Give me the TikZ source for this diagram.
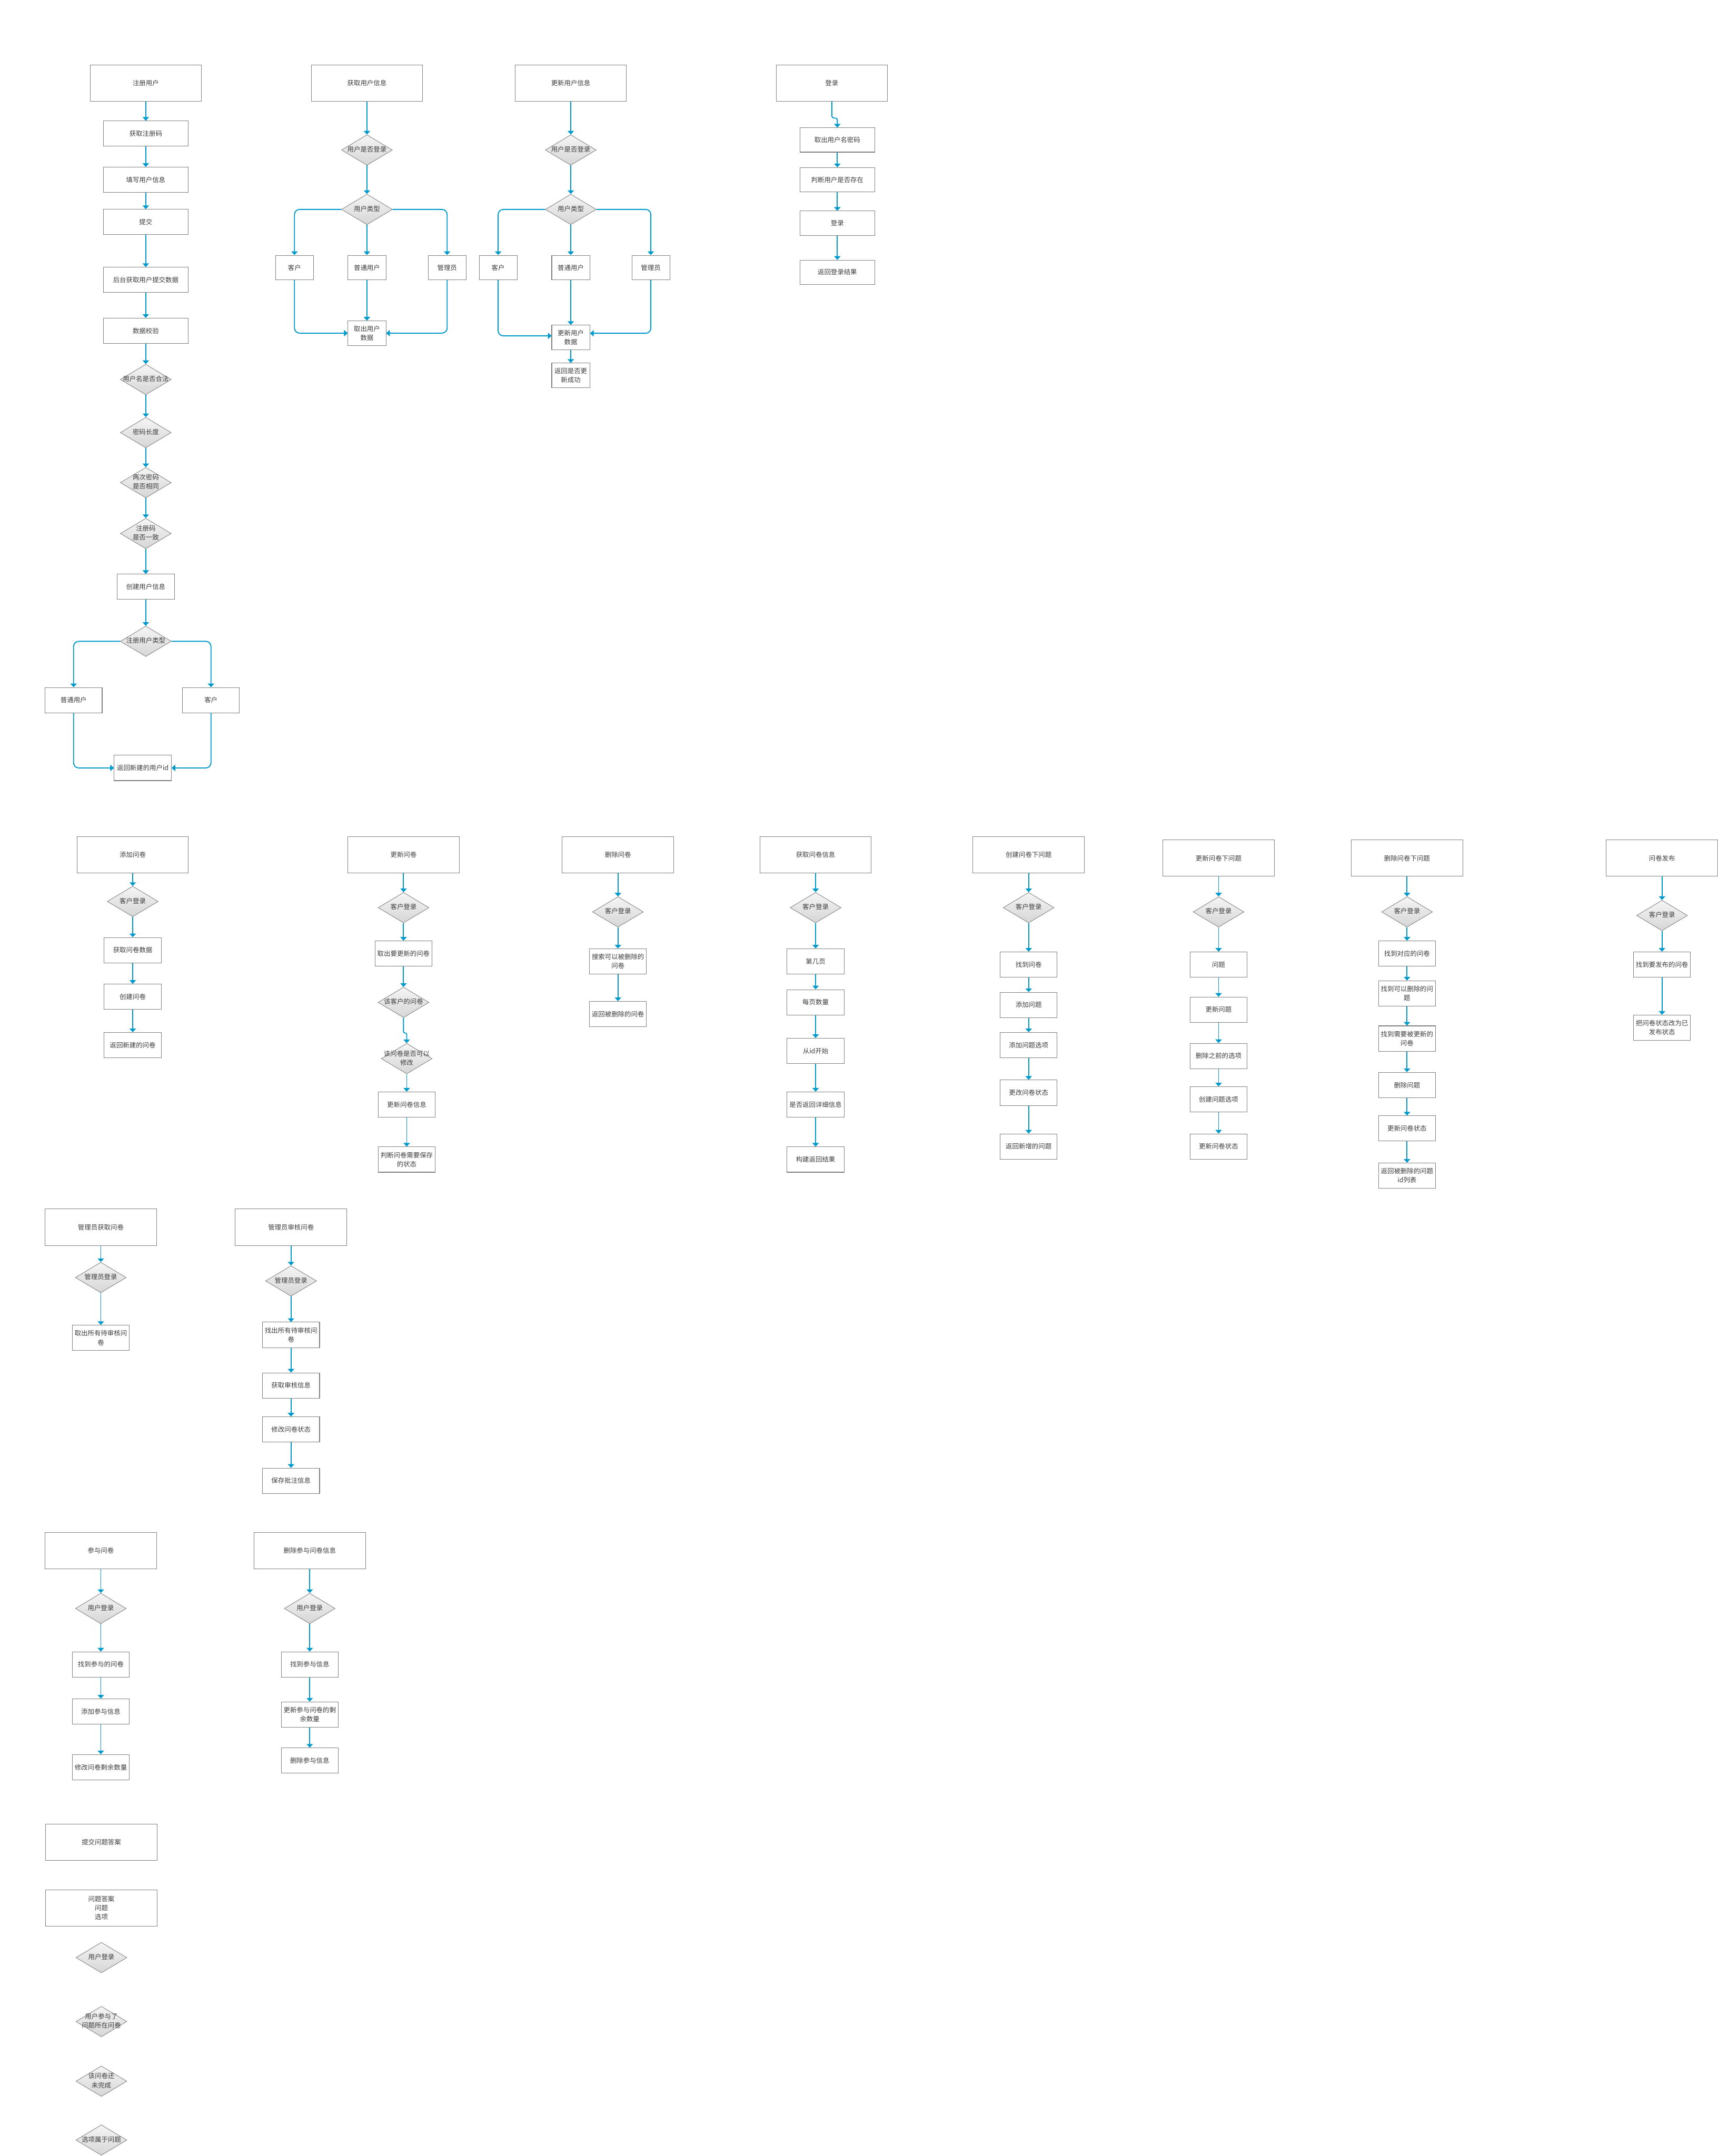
\documentclass[tikz,border=0pt]{standalone}
\usepackage{fontspec}
\setmainfont{Noto Sans CJK SC}
\usepackage{tikz}
\usetikzlibrary{shapes.geometric}
\usetikzlibrary{arrows.meta,positioning}

\definecolor{xianlan}{HTML}{0099CC}
\definecolor{biankuang}{HTML}{7F7F7F}
\definecolor{wenzi}{HTML}{3C3C3C}
\definecolor{lingshang}{HTML}{F5F5F5}
\definecolor{lingxia}{HTML}{D6D6D6}

% 菱形里的文字（不撑大菱形）
\newcommand{\zhe}[1]{\makebox[0pt]{\begin{tabular}{@{}c@{}}#1\end{tabular}}}

\begin{document}
\begin{tikzpicture}[x=0.0532cm, y=-0.0532cm,
  every node/.style={font=\fontsize{7.2}{10}\selectfont, text=wenzi},
  kuang/.style={rectangle, draw=biankuang, line width=0.6pt, fill=white, align=center, inner sep=1pt},
  dakuang/.style={kuang, minimum width=4.31cm, minimum height=1.41cm},
  zhongkuang/.style={kuang, minimum width=3.27cm, minimum height=0.98cm},
  xiaokuang/.style={kuang, minimum width=2.21cm, minimum height=0.98cm},
  zhaikuang/.style={kuang, minimum width=1.47cm, minimum height=0.95cm},
  dlkuang/.style={kuang, minimum width=2.88cm, minimum height=0.94cm},
  lingxing/.style={diamond, draw=biankuang, line width=0.5pt, top color=lingshang, bottom color=lingxia,
    minimum width=1.97cm, minimum height=1.18cm, inner sep=0pt},
  liu/.style={draw=xianlan, line width=1.1pt, -{Triangle[width=7pt,length=4pt]}, rounded corners=0.2cm}]
  \useasboundingbox (0,0) rectangle (1249,1568);

  % 注册用户
  \node[dakuang] (zc0) at (106,60.4) {注册用户};
  \node[zhongkuang] (zc1) at (106,97.2) {获取注册码};
  \node[zhongkuang] (zc2) at (106,130.8) {填写用户信息};
  \node[zhongkuang] (zc3) at (106,161.5) {提交};
  \node[zhongkuang] (zc4) at (106,203.6) {后台获取用户提交数据};
  \node[zhongkuang] (zc5) at (106,240.6) {数据校验};
  \node[lingxing] (zc6) at (106,276) {\zhe{用户名是否合法}};
  \node[lingxing] (zc7) at (106,314.6) {\zhe{密码长度}};
  \node[lingxing] (zc8) at (106,351) {\zhe{两次密码\\是否相同}};
  \node[lingxing] (zc9) at (106,388) {\zhe{注册码\\是否一致}};
  \node[xiaokuang] (zc10) at (106,426.8) {创建用户信息};
  \node[lingxing] (zc11) at (106,466.4) {\zhe{注册用户类型}};
  \node[xiaokuang] (zc12) at (53.5,509.2) {普通用户};
  \node[xiaokuang] (zc13) at (153.4,509.2) {客户};
  \node[xiaokuang] (zc14) at (103.8,558.5) {返回新建的用户id};
  \draw[liu] (zc0) -- (zc1);
  \draw[liu] (zc1) -- (zc2);
  \draw[liu] (zc2) -- (zc3);
  \draw[liu] (zc3) -- (zc4);
  \draw[liu] (zc4) -- (zc5);
  \draw[liu] (zc5) -- (zc6);
  \draw[liu] (zc6) -- (zc7);
  \draw[liu] (zc7) -- (zc8);
  \draw[liu] (zc8) -- (zc9);
  \draw[liu] (zc9) -- (zc10);
  \draw[liu] (zc10) -- (zc11);
  \draw[liu] (zc11.west) -| (zc12.north);
  \draw[liu] (zc11.east) -| (zc13.north);
  \draw[liu] (zc12.south) |- (zc14.west);
  \draw[liu] (zc13.south) |- (zc14.east);

  % 获取用户信息
  \node[dakuang] (hq0) at (266.8,60.4) {获取用户信息};
  \node[lingxing] (hq1) at (266.8,109.1) {\zhe{用户是否登录}};
  \node[lingxing] (hq2) at (266.8,152.3) {\zhe{用户类型}};
  \node[zhaikuang] (hq3) at (214.1,194.6) {客户};
  \node[zhaikuang] (hq4) at (266.8,194.6) {普通用户};
  \node[zhaikuang] (hq5) at (325.1,194.6) {管理员};
  \node[zhaikuang] (hq6) at (266.8,242.3) {取出用户\\数据};
  \draw[liu] (hq0) -- (hq1);
  \draw[liu] (hq1) -- (hq2);
  \draw[liu] (hq2.west) -| (hq3.north);
  \draw[liu] (hq2) -- (hq4);
  \draw[liu] (hq2.east) -| (hq5.north);
  \draw[liu] (hq3.south) |- (hq6.west);
  \draw[liu] (hq4) -- (hq6);
  \draw[liu] (hq5.south) |- (hq6.east);

  % 更新用户信息
  \node[dakuang] (gx0) at (415,60.4) {更新用户信息};
  \node[lingxing] (gx1) at (415,109.1) {\zhe{用户是否登录}};
  \node[lingxing] (gx2) at (415,152.3) {\zhe{用户类型}};
  \node[zhaikuang] (gx3) at (362.2,194.6) {客户};
  \node[zhaikuang] (gx4) at (415,194.6) {普通用户};
  \node[zhaikuang] (gx5) at (473.2,194.6) {管理员};
  \node[zhaikuang] (gx6) at (415,245.4) {更新用户\\数据};
  \node[zhaikuang] (gx7) at (415,273) {返回是否更\\新成功};
  \draw[liu] (gx0) -- (gx1);
  \draw[liu] (gx1) -- (gx2);
  \draw[liu] (gx2.west) -| (gx3.north);
  \draw[liu] (gx2) -- (gx4);
  \draw[liu] (gx2.east) -| (gx5.north);
  \draw[liu] (gx3.south) |- ([yshift=0.06cm]gx6.west);
  \draw[liu] (gx4) -- (gx6);
  \draw[liu] (gx5.south) |- ([yshift=0.16cm]gx6.east);
  \draw[liu] (gx6) -- (gx7);

  % 登录
  \node[dakuang] (dl0) at (604.8,60.4) {登录};
  \node[dlkuang] (dl1) at (608.8,101.8) {取出用户名密码};
  \node[dlkuang] (dl2) at (608.8,130.7) {判断用户是否存在};
  \node[dlkuang] (dl3) at (608.8,162.3) {登录};
  \node[dlkuang] (dl4) at (608.8,198) {返回登录结果};
  \draw[liu, rounded corners=0.08cm] (dl0.south) -- ++(0,12) -| (dl1.north);
  \draw[liu] (dl1) -- (dl2);
  \draw[liu] (dl2) -- (dl3);
  \draw[liu] (dl3) -- (dl4);

  % 添加问卷
  \node[dakuang] (tj0) at (96.5,621.7) {添加问卷};
  \node[lingxing] (tj1) at (96.5,655.6) {\zhe{客户登录}};
  \node[xiaokuang] (tj2) at (96.5,691) {获取问卷数据};
  \node[xiaokuang] (tj3) at (96.5,724.9) {创建问卷};
  \node[xiaokuang] (tj4) at (96.5,760.1) {返回新建的问卷};
  \draw[liu] (tj0) -- (tj1);
  \draw[liu] (tj1) -- (tj2);
  \draw[liu] (tj2) -- (tj3);
  \draw[liu] (tj3) -- (tj4);

  % 更新问卷
  \node[dakuang] (gw0) at (293.4,621.7) {更新问卷};
  \node[lingxing] (gw1) at (293.4,660.1) {\zhe{客户登录}};
  \node[xiaokuang] (gw2) at (293.4,693.5) {取出要更新的问卷};
  \node[lingxing] (gw3) at (293.4,729) {\zhe{该客户的问卷}};
  \node[lingxing] (gw4) at (295.7,769.9) {\zhe{该问卷是否可以\\修改}};
  \node[xiaokuang] (gw5) at (295.7,803.3) {更新问卷信息};
  \node[xiaokuang] (gw6) at (295.7,843.3) {判断问卷需要保存\\的状态};
  \draw[liu] (gw0) -- (gw1);
  \draw[liu] (gw1) -- (gw2);
  \draw[liu] (gw2) -- (gw3);
  \draw[liu, rounded corners=0.04cm] (gw3.south) -- ++(0,11) -| (gw4.north);
  \draw[liu] (gw4) -- (gw5);
  \draw[liu] (gw5) -- (gw6);

  % 删除问卷
  \node[dakuang] (sw0) at (449.3,621.7) {删除问卷};
  \node[lingxing] (sw1) at (449.3,663.2) {\zhe{客户登录}};
  \node[xiaokuang] (sw2) at (449.3,699.2) {搜索可以被删除的\\问卷};
  \node[xiaokuang] (sw3) at (449.3,737.5) {返回被删除的问卷};
  \draw[liu] (sw0) -- (sw1);
  \draw[liu] (sw1) -- (sw2);
  \draw[liu] (sw2) -- (sw3);

  % 获取问卷信息
  \node[dakuang] (hw0) at (593,621.7) {获取问卷信息};
  \node[lingxing] (hw1) at (593,660.1) {\zhe{客户登录}};
  \node[xiaokuang] (hw2) at (593,699.2) {第几页};
  \node[xiaokuang] (hw3) at (593,728.9) {每页数量};
  \node[xiaokuang] (hw4) at (593,764.3) {从id开始};
  \node[xiaokuang] (hw5) at (593,803.3) {是否返回详细信息};
  \node[xiaokuang] (hw6) at (593,843.3) {构建返回结果};
  \draw[liu] (hw0) -- (hw1);
  \draw[liu] (hw1) -- (hw2);
  \draw[liu] (hw2) -- (hw3);
  \draw[liu] (hw3) -- (hw4);
  \draw[liu] (hw4) -- (hw5);
  \draw[liu] (hw5) -- (hw6);

  % 创建问卷下问题
  \node[dakuang] (cw0) at (747.9,621.7) {创建问卷下问题};
  \node[lingxing] (cw1) at (747.9,660.1) {\zhe{客户登录}};
  \node[xiaokuang] (cw2) at (747.9,701.5) {找到问卷};
  \node[xiaokuang] (cw3) at (747.9,730.9) {添加问题};
  \node[xiaokuang] (cw4) at (747.9,760.1) {添加问题选项};
  \node[xiaokuang] (cw5) at (747.9,794.7) {更改问卷状态};
  \node[xiaokuang] (cw6) at (747.9,833.8) {返回新增的问题};
  \draw[liu] (cw0) -- (cw1);
  \draw[liu] (cw1) -- (cw2);
  \draw[liu] (cw2) -- (cw3);
  \draw[liu] (cw3) -- (cw4);
  \draw[liu] (cw4) -- (cw5);
  \draw[liu] (cw5) -- (cw6);

  % 更新问卷下问题
  \node[dakuang] (gt0) at (886,624.1) {更新问卷下问题};
  \node[lingxing] (gt1) at (886,663.2) {\zhe{客户登录}};
  \node[xiaokuang] (gt2) at (886,701.5) {问题};
  \node[xiaokuang] (gt3) at (886,734.3) {更新问题};
  \node[xiaokuang] (gt4) at (886,768) {删除之前的选项};
  \node[xiaokuang] (gt5) at (886,799.5) {创建问题选项};
  \node[xiaokuang] (gt6) at (886,833.8) {更新问卷状态};
  \draw[liu] (gt0) -- (gt1);
  \draw[liu] (gt1) -- (gt2);
  \draw[liu] (gt2) -- (gt3);
  \draw[liu] (gt3) -- (gt4);
  \draw[liu] (gt4) -- (gt5);
  \draw[liu] (gt5) -- (gt6);

  % 删除问卷下问题
  \node[dakuang] (st0) at (1023,624.1) {删除问卷下问题};
  \node[lingxing] (st1) at (1023,663.2) {\zhe{客户登录}};
  \node[xiaokuang] (st2) at (1023,693.5) {找到对应的问卷};
  \node[xiaokuang] (st3) at (1023,722.5) {找到可以删除的问\\题};
  \node[xiaokuang] (st4) at (1023,755.3) {找到需要被更新的\\问卷};
  \node[xiaokuang] (st5) at (1023,789.1) {删除问题};
  \node[xiaokuang] (st6) at (1023,820.7) {更新问卷状态};
  \node[xiaokuang] (st7) at (1023,855) {返回被删除的问题\\id列表};
  \draw[liu] (st0) -- (st1);
  \draw[liu] (st1) -- (st2);
  \draw[liu] (st2) -- (st3);
  \draw[liu] (st3) -- (st4);
  \draw[liu] (st4) -- (st5);
  \draw[liu] (st5) -- (st6);
  \draw[liu] (st6) -- (st7);

  % 问卷发布
  \node[dakuang] (fb0) at (1208.4,624.1) {问卷发布};
  \node[lingxing] (fb1) at (1208.4,665.8) {\zhe{客户登录}};
  \node[xiaokuang] (fb2) at (1208.4,701.5) {找到要发布的问卷};
  \node[xiaokuang] (fb3) at (1208.4,747.4) {把问卷状态改为已\\发布状态};
  \draw[liu] (fb0) -- (fb1);
  \draw[liu] (fb1) -- (fb2);
  \draw[liu] (fb2) -- (fb3);

  % 管理员获取问卷
  \node[dakuang] (gh0) at (73.3,892.5) {管理员获取问卷};
  \node[lingxing] (gh1) at (73.3,929.1) {\zhe{管理员登录}};
  \node[xiaokuang] (gh2) at (73.3,973) {取出所有待审核问\\卷};
  \draw[liu] (gh0) -- (gh1);
  \draw[liu] (gh1) -- (gh2);

  % 管理员审核问卷
  \node[dakuang] (sh0) at (211.6,892.5) {管理员审核问卷};
  \node[lingxing] (sh1) at (211.6,931.6) {\zhe{管理员登录}};
  \node[xiaokuang] (sh2) at (211.6,970.8) {找出所有待审核问\\卷};
  \node[xiaokuang] (sh3) at (211.6,1007.6) {获取审核信息};
  \node[xiaokuang] (sh4) at (211.6,1039.6) {修改问卷状态};
  \node[xiaokuang] (sh5) at (211.6,1076.9) {保存批注信息};
  \draw[liu] (sh0) -- (sh1);
  \draw[liu] (sh1) -- (sh2);
  \draw[liu] (sh2) -- (sh3);
  \draw[liu] (sh3) -- (sh4);
  \draw[liu] (sh4) -- (sh5);

  % 参与问卷
  \node[dakuang] (cy0) at (73.3,1127.8) {参与问卷};
  \node[lingxing] (cy1) at (73.3,1169.8) {\zhe{用户登录}};
  \node[xiaokuang] (cy2) at (73.3,1210.5) {找到参与的问卷};
  \node[xiaokuang] (cy3) at (73.3,1244.7) {添加参与信息};
  \node[xiaokuang] (cy4) at (73.3,1285.2) {修改问卷剩余数量};
  \draw[liu] (cy0) -- (cy1);
  \draw[liu] (cy1) -- (cy2);
  \draw[liu] (cy2) -- (cy3);
  \draw[liu] (cy3) -- (cy4);

  % 删除参与问卷信息
  \node[dakuang] (sc0) at (225.2,1127.8) {删除参与问卷信息};
  \node[lingxing] (sc1) at (225.2,1169.8) {\zhe{用户登录}};
  \node[xiaokuang] (sc2) at (225.2,1210.5) {找到参与信息};
  \node[xiaokuang] (sc3) at (225.2,1246.9) {更新参与问卷的剩\\余数量};
  \node[xiaokuang] (sc4) at (225.2,1280.4) {删除参与信息};
  \draw[liu] (sc0) -- (sc1);
  \draw[liu] (sc1) -- (sc2);
  \draw[liu] (sc2) -- (sc3);
  \draw[liu] (sc3) -- (sc4);

  % 提交问题答案
  \node[dakuang] (da0) at (73.7,1339.9) {提交问题答案};
  \node[dakuang] (da1) at (73.7,1387.6) {问题答案\\问题\\选项};
  \node[lingxing] (da2) at (73.7,1423.7) {\zhe{用户登录}};
  \node[lingxing] (da3) at (73.7,1470.2) {\zhe{用户参与了\\问题所在问卷}};
  \node[lingxing] (da4) at (73.7,1513.6) {\zhe{该问卷还\\未完成}};
  \node[lingxing] (da5) at (73.7,1556.4) {\zhe{选项属于问题}};
\end{tikzpicture}
\end{document}
